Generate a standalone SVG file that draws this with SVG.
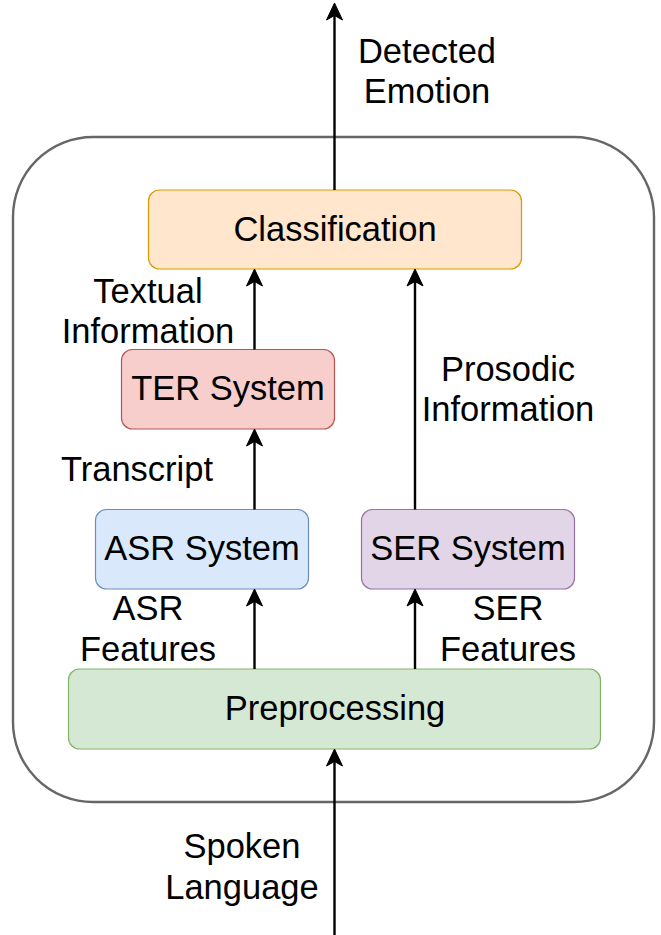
<svg xmlns="http://www.w3.org/2000/svg" width="661" height="935" viewBox="0 0 661 935">
<style>
text{font-family:"Liberation Sans",Arial,sans-serif;font-size:34.5px;fill:#000;text-anchor:middle}
.box{stroke-width:1.2}
.conn{stroke:#000;stroke-width:2.4;fill:none}
</style>
<defs>
<marker id="arr" markerUnits="userSpaceOnUse" viewBox="-18 -9 19 18" markerWidth="19" markerHeight="18" refX="-12" refY="0" orient="auto">
<path d="M0,0 L-17,-8 L-12.5,0 L-17,8 Z" fill="#000" stroke="#000" stroke-width="1"/>
</marker>
</defs>
<rect width="661" height="935" fill="#fff"/>
<g id="container"><rect x="13" y="137" width="641" height="665" rx="80" ry="80" fill="none" stroke="#666" stroke-width="2.4"/></g>
<g id="classification"><rect class="box" x="148.5" y="190" width="373" height="79" rx="11" fill="#ffe6cc" stroke="#d79b00"/><text x="335" y="241">Classification</text></g>
<g id="ter"><rect class="box" x="121.5" y="349.5" width="213" height="79.5" rx="11" fill="#f8cecc" stroke="#b85450"/><text x="228" y="400">TER System</text></g>
<g id="asr"><rect class="box" x="95.5" y="509.5" width="213" height="79.5" rx="11" fill="#dae8fc" stroke="#6c8ebf"/><text x="202" y="560">ASR System</text></g>
<g id="ser"><rect class="box" x="361.5" y="509.5" width="213" height="79.5" rx="11" fill="#e1d5e7" stroke="#9673a6"/><text x="468" y="560">SER System</text></g>
<g id="preprocessing"><rect class="box" x="68.5" y="669" width="532" height="80" rx="11" fill="#d5e8d4" stroke="#82b366"/><text x="335" y="720">Preprocessing</text></g>
<g id="connectors">
<line class="conn" x1="334.5" y1="190" x2="334.5" y2="15" marker-end="url(#arr)"/>
<line class="conn" x1="254.5" y1="349.5" x2="254.5" y2="281" marker-end="url(#arr)"/>
<line class="conn" x1="415" y1="509.5" x2="415" y2="281" marker-end="url(#arr)"/>
<line class="conn" x1="254.5" y1="509.5" x2="254.5" y2="441" marker-end="url(#arr)"/>
<line class="conn" x1="254.5" y1="669" x2="254.5" y2="601" marker-end="url(#arr)"/>
<line class="conn" x1="415" y1="669" x2="415" y2="601" marker-end="url(#arr)"/>
<line class="conn" x1="334.5" y1="935" x2="334.5" y2="761" marker-end="url(#arr)"/>
</g>
<g id="labels">
<text x="427" y="63">Detected</text><text x="427" y="103">Emotion</text>
<text x="148" y="303">Textual</text><text x="148" y="343">Information</text>
<text x="508" y="381">Prosodic</text><text x="508" y="421">Information</text>
<text x="137" y="481">Transcript</text>
<text x="148" y="620">ASR</text><text x="148" y="661">Features</text>
<text x="508" y="620">SER</text><text x="508" y="661">Features</text>
<text x="242" y="858">Spoken</text><text x="242" y="899">Language</text>
</g>
</svg>
